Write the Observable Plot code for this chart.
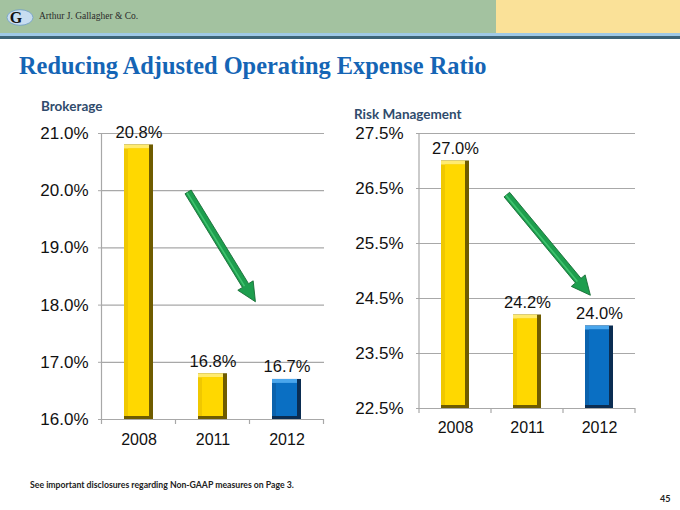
<!DOCTYPE html>
<html>
<head>
<meta charset="utf-8">
<script src="https://cdn.jsdelivr.net/npm/d3@7"></script>
<script src="https://cdn.jsdelivr.net/npm/@observablehq/plot@0.6"></script>
<style>
  html, body { margin: 0; padding: 0; background: #fff; }
  #page { position: relative; width: 680px; height: 510px; overflow: hidden; background: #fff; }
  .abs { position: absolute; }
  #green { left: 0; top: 0; width: 496px; height: 33px; background: #a3c2a0; }
  #yellow { left: 496px; top: 0; width: 184px; height: 33px; background: #fae198; }
  #line1 { left: 0; top: 33px; width: 680px; height: 3px; background: #9ec8e6; }
  #line2 { left: 0; top: 36px; width: 680px; height: 3px; background: #3d6478; }
  #company { left: 39px; top: 11px; font-family: "Liberation Serif", serif; font-size: 9.5px; color: #2a2a2a; white-space: nowrap; }
  #title { left: 19px; top: 52px; font-family: "Liberation Serif", serif; font-weight: bold; font-size: 24.4px; color: #1565b5; white-space: nowrap; }
  .sub { font-family: Lato, "Open Sans", sans-serif; font-weight: bold; font-size: 13.5px; color: #2f4b6c; white-space: nowrap; }
  #foot { left: 30px; top: 479px; font-family: Lato, "Open Sans", sans-serif; font-weight: bold; font-size: 8.7px; color: #222; white-space: nowrap; }
  #pagenum { left: 660px; top: 493px; font-family: Lato, "Open Sans", sans-serif; font-weight: bold; font-size: 9px; color: #222; }
</style>
</head>
<body>
<div id="page">
  <div id="green" class="abs"></div>
  <div id="yellow" class="abs"></div>
  <div id="line1" class="abs"></div>
  <div id="line2" class="abs"></div>
  <svg class="abs" style="left:6px;top:9px" width="28" height="17" viewBox="0 0 28 17">
    <ellipse cx="14" cy="8.5" rx="13" ry="7.8" fill="#c7ddf0" stroke="#6d9cc6" stroke-width="0.8"/>
    <text x="10" y="14.2" text-anchor="middle" font-family="Liberation Serif, serif" font-weight="bold" font-size="16" fill="#111">G</text>
  </svg>
  <div id="company" class="abs">Arthur J. Gallagher &amp; Co.</div>
  <div id="title" class="abs">Reducing Adjusted Operating Expense Ratio</div>
  <div id="sub1" class="abs sub" style="left:41px;top:98px">Brokerage</div>
  <div id="sub2" class="abs sub" style="left:354px;top:106px">Risk Management</div>
  <div id="chart1" class="abs" style="left:0px;top:120px"></div>
  <div id="chart2" class="abs" style="left:340px;top:120px"></div>
  <div id="foot" class="abs">See important disclosures regarding Non-GAAP measures on Page 3.</div>
  <div id="pagenum" class="abs">45</div>
</div>
<script>
// ---- data ----
const years = ["2008", "2011", "2012"];
const barKinds = ["past", "past", "current"];
const brokerageValues = [20.8, 16.8, 16.7];
const riskValues = [27.0, 24.2, 24.0];
const brokerageTicks = [16, 17, 18, 19, 20, 21];
const riskTicks = [22.5, 23.5, 24.5, 25.5, 26.5, 27.5];
// arrow annotations: position in category-index units and value units
const brokerageArrow = {i1: 0.67, v1: 19.97, i2: 1.58, v2: 18.05};
const riskArrow = {i1: 0.72, v1: 26.38, i2: 1.88, v2: 24.55};

const palette = {
  past:    {dark: "#6f5c00", top: "#ffeb70", left: "#f0c800", face: "#ffd800"},
  current: {dark: "#0b2d52", top: "#4aa6ec", left: "#0a62ad", face: "#0a6fc3"}
};
const GRID = "#a8a8a8";
const FONT = "'Liberation Sans', Arial, sans-serif";

function makeChart(opts) {
  const data = years.map((y, i) => ({year: y, value: opts.values[i], kind: barKinds[i]}));
  const base = opts.ticks[0];
  const top = opts.ticks[opts.ticks.length - 1];
  const plot = Plot.plot({
    width: opts.width,
    height: opts.height,
    marginLeft: opts.mL,
    marginRight: opts.mR,
    marginTop: opts.mT,
    marginBottom: opts.mB,
    style: {fontFamily: FONT, fontSize: "17px", color: "#111", background: "transparent", overflow: "visible"},
    x: {type: "band", domain: years, paddingInner: 0.61, paddingOuter: 0.305},
    y: {domain: [base, top]},
    marks: [
      Plot.gridY(opts.ticks, {stroke: GRID, strokeOpacity: 1, strokeWidth: 1.2}),
      Plot.axisY(opts.ticks, {tickFormat: d => d.toFixed(1) + "%", tickSize: 3, tickPadding: opts.tickPad, stroke: GRID, fill: "#111", fontSize: 17, label: null}),
      Plot.axisX({tickSize: 0, tickPadding: opts.xPad, fill: "#111", fontSize: 16, label: null}),
      Plot.barY(data, {x: "year", y1: () => base, y2: "value", fill: d => palette[d.kind].dark}),
      Plot.barY(data, {x: "year", y1: () => base, y2: "value", insetRight: 4, insetBottom: 3, fill: d => palette[d.kind].top}),
      Plot.barY(data, {x: "year", y1: () => base, y2: "value", insetRight: 4, insetTop: 4, insetBottom: 3, fill: d => palette[d.kind].left}),
      Plot.barY(data, {x: "year", y1: () => base, y2: "value", insetLeft: 4, insetRight: 4, insetTop: 4, insetBottom: 3, fill: d => palette[d.kind].face}),
      Plot.text(data, {x: "year", y: "value", text: d => d.value.toFixed(1) + "%", lineAnchor: "bottom", dy: -7, fontSize: 16.5, fill: "#111"})
    ]
  });
  decorate(plot, opts.arrow);
  return plot;
}

function decorate(plot, arrow) {
  const svg = d3.select(plot);
  const xs = plot.scale("x"), ys = plot.scale("y");
  const bw = xs.bandwidth, step = xs.step;
  const c0 = xs.apply(years[0]) + bw / 2;
  const start = c0 - step / 2;
  const yb = ys.apply(ys.domain[0]), yt = ys.apply(ys.domain[1]);
  const g = svg.append("g");
  g.append("line").attr("x1", start).attr("x2", start).attr("y1", yt).attr("y2", yb + 5)
    .attr("stroke", GRID).attr("stroke-width", 1.2);
  for (let k = 1; k <= years.length; k++) {
    const x = start + k * step;
    g.append("line").attr("x1", x).attr("x2", x).attr("y1", yb).attr("y2", yb + 5)
      .attr("stroke", GRID).attr("stroke-width", 1.2);
  }
  // arrow
  const ax = c0 + arrow.i1 * step, ay = ys.apply(arrow.v1);
  const bx = c0 + arrow.i2 * step, by = ys.apply(arrow.v2);
  const len = Math.hypot(bx - ax, by - ay);
  const ux = (bx - ax) / len, uy = (by - ay) / len;
  const nx = -uy, ny = ux;
  const sw = 3.6, hw = 9, hl = 19;
  const nkx = bx - ux * hl, nky = by - uy * hl;
  const pts = [
    [ax + nx * sw, ay + ny * sw],
    [nkx + nx * sw, nky + ny * sw],
    [nkx + nx * hw, nky + ny * hw],
    [bx, by],
    [nkx - nx * hw, nky - ny * hw],
    [nkx - nx * sw, nky - ny * sw],
    [ax - nx * sw, ay - ny * sw]
  ];
  g.append("polygon").attr("points", pts.map(p => p.join(",")).join(" "))
    .attr("fill", "#1d9e4e").attr("stroke", "#176c36").attr("stroke-width", 0.9)
    .attr("stroke-linejoin", "miter");
  // highlight stripe along shaft
  g.append("line")
    .attr("x1", ax + nx * 1.2).attr("y1", ay + ny * 1.2)
    .attr("x2", nkx + nx * 1.2).attr("y2", nky + ny * 1.2)
    .attr("stroke", "#3fc26e").attr("stroke-width", 1.6);
}

document.getElementById("chart1").appendChild(makeChart({
  values: brokerageValues, ticks: brokerageTicks, arrow: brokerageArrow,
  width: 340, height: 329, mL: 101, mR: 16, mT: 13, mB: 30, tickPad: 10, xPad: 14.5
}));
document.getElementById("chart2").appendChild(makeChart({
  values: riskValues, ticks: riskTicks, arrow: riskArrow,
  width: 340, height: 318, mL: 79, mR: 45, mT: 13, mB: 30, tickPad: 13, xPad: 13.3
}));
</script>
</body>
</html>
